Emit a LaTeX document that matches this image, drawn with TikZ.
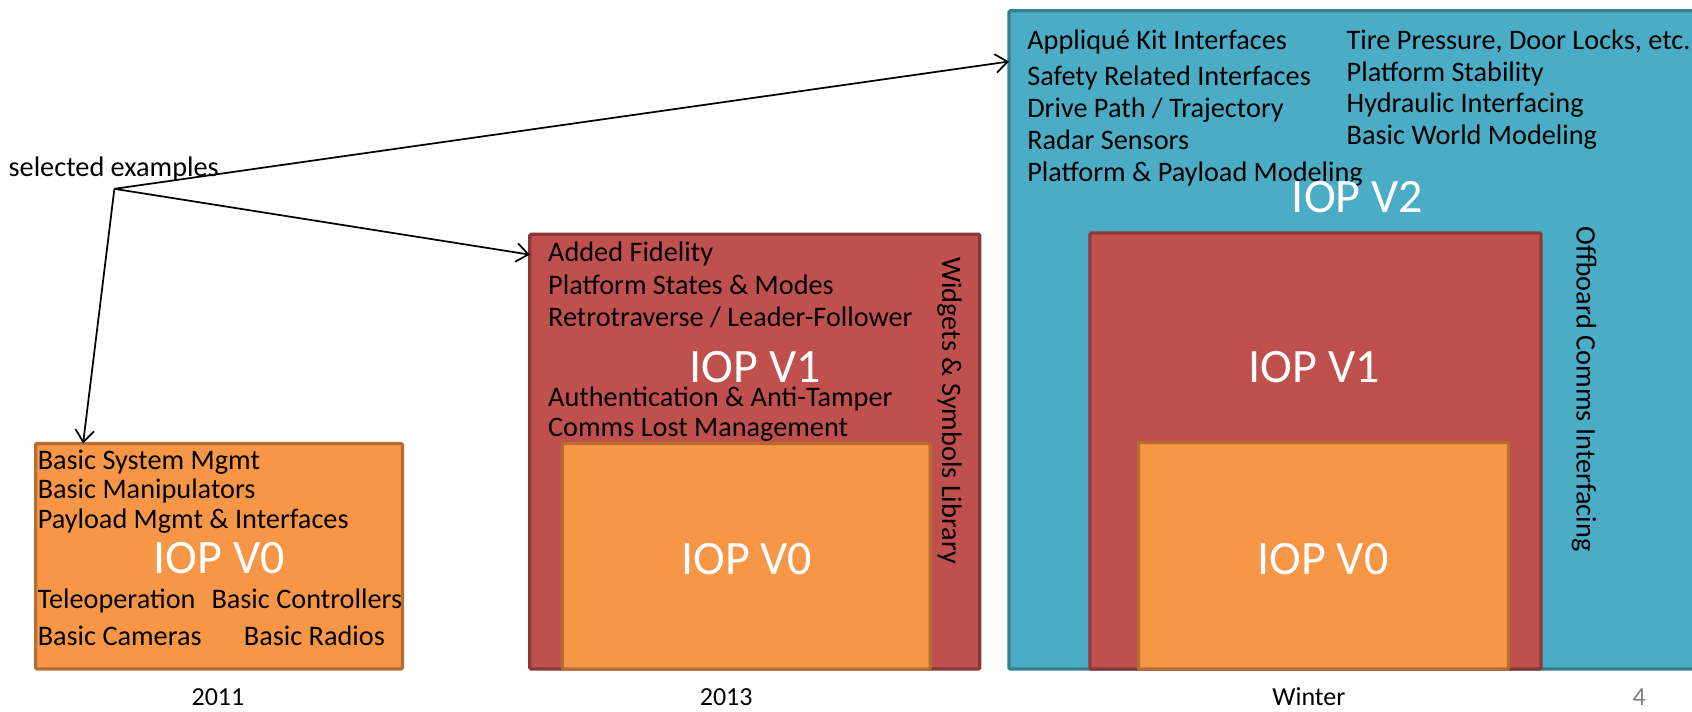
\documentclass[tikz,border=0pt]{standalone}
\usepackage{fontspec}
\setmainfont{Carlito}
\usetikzlibrary{positioning,arrows.meta}

\definecolor{vzero}{HTML}{F79646}
\definecolor{vzeroline}{HTML}{B66D31}
\definecolor{vone}{HTML}{C0504D}
\definecolor{voneline}{HTML}{8C3836}
\definecolor{vtwo}{HTML}{4BACC6}
\definecolor{vtwoline}{HTML}{357D91}
\def\px{0.8093pt}

\begin{document}
\begin{tikzpicture}[x=\px,y=-\px,>={Straight Barb[length=9pt,width=14pt]},
    every node/.style={inner sep=0pt,outer sep=0pt},
    box/.style={draw,line width=2.4pt,rounded corners=1pt,anchor=north west},
    zerobox/.style={box,fill=vzero,draw=vzeroline},
    onebox/.style={box,fill=vone,draw=voneline},
    twobox/.style={box,fill=vtwo,draw=vtwoline},
    item/.style={anchor=mid west,yshift=-4.5pt,font=\fontsize{21.2}{24}\selectfont},
    big/.style={text=white,font=\fontsize{36}{40}\selectfont},
    year/.style={font=\fontsize{19.5}{22}\selectfont}]
    \useasboundingbox (0,0) rectangle (1568,659);

    % draw the 2011 box
    \node[zerobox,minimum width=340*\px,minimum height=209*\px] (vzeroA) at (33,411) {};
    \foreach \y/\xtext in {427/Basic System Mgmt,453/Basic Manipulators,481/Payload Mgmt \& Interfaces,
        555/Teleoperation,590/Basic Cameras}
    \node[item] (itemA\y) at (35,\y) {\xtext};
    \node[item] (ctrlA) at (196,555) {Basic Controllers};
    \node[item] (radioA) at (226,590) {Basic Radios};
    \node[big] (labelzeroA) at (203,517) {IOP V0};

    % draw the 2013 boxes
    \node[onebox,minimum width=417*\px,minimum height=403*\px] (voneB) at (491,217) {};
    \node[zerobox,minimum width=341*\px,minimum height=209*\px] (vzeroB) at (521,411) {};
    \foreach \y/\xtext in {234/Added Fidelity,264/Platform States \& Modes,294/{Retrotraverse / Leader-Follower},
        368/Authentication \& Anti-Tamper,396/Comms Lost Management}
    \node[item] (itemB\y) at (508,\y) {\xtext};
    \node[big] (labeloneB) at (700,340) {IOP V1};
    \node[big] (labelzeroB) at (692,518) {IOP V0};
    \node[item,anchor=center,yshift=0pt,rotate=-90] (widgets) at (880,375) {Widgets \& Symbols Library};

    % draw the winter boxes
    \node[twobox,minimum width=765*\px,minimum height=610*\px] (vtwoC) at (935,10) {};
    \node[onebox,minimum width=418*\px,minimum height=404*\px] (voneC) at (1010,216) {};
    \node[zerobox,minimum width=343*\px,minimum height=210*\px] (vzeroC) at (1055,410) {};
    \foreach \y/\xtext in {37/Appliqué Kit Interfaces,71/Safety Related Interfaces,100/{Drive Path / Trajectory},
        130/Radar Sensors,160/Platform \& Payload Modeling}
    \node[item] (itemC\y) at (952,\y) {\xtext};
    \foreach \y/\xtext in {37/{Tire Pressure, Door Locks, etc.},67/Platform Stability,96/Hydraulic Interfacing,
        125/Basic World Modeling}
    \node[item] (itemD\y) at (1248,\y) {\xtext};
    \node[big] (labeltwoC) at (1258,183) {IOP V2};
    \node[big] (labeloneC) at (1218,340) {IOP V1};
    \node[big] (labelzeroC) at (1226,518) {IOP V0};
    \node[item,anchor=center,yshift=0pt,rotate=-90] (offboard) at (1468,355) {Offboard Comms Interfacing};

    % the years below
    \node[year] (yearA) at (202,646) {2011};
    \node[year] (yearB) at (673,646) {2013};
    \node[year] (yearC) at (1213,646) {Winter};
    \node[year,text=gray] (page) at (1519,646) {4};

    % the pointers to the examples
    \node[item] (examples) at (8,155) {selected examples};
    \coordinate (hub) at (106,175);
    \draw[->,line width=1.3pt] (hub) -- ([yshift=-47*\px]vtwoC.north west);
    \draw[->,line width=1.3pt] (hub) -- ([yshift=-19*\px]voneB.north west);
    \draw[->,line width=1.3pt] (hub) -- ([xshift=44*\px]vzeroA.north west);
\end{tikzpicture}
\end{document}
